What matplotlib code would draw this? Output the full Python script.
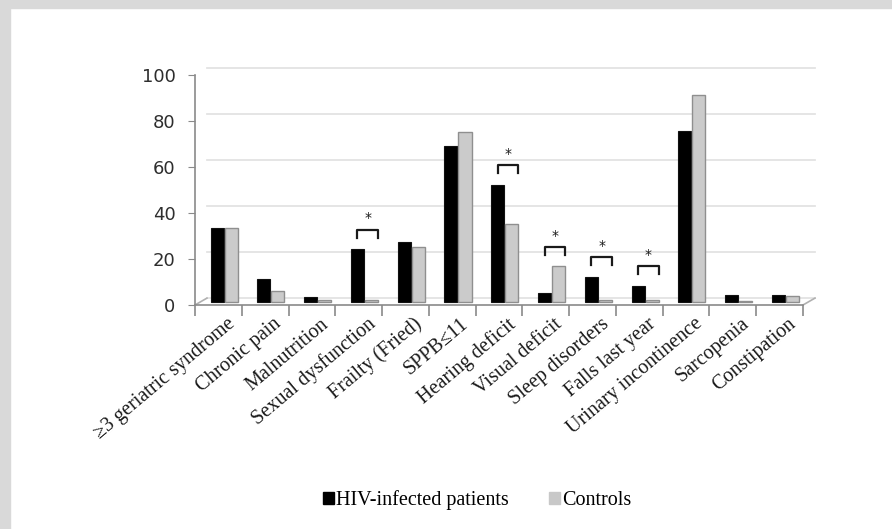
import matplotlib.pyplot as plt
import matplotlib.transforms as mtransforms
from matplotlib.patches import Patch, Rectangle
import numpy as np

categories = ['≥3 geriatric syndrome', 'Chronic pain', 'Malnutrition', 'Sexual dysfunction',
              'Frailty (Fried)', 'SPPB≤11', 'Hearing deficit', 'Visual deficit',
              'Sleep disorders', 'Falls last year', 'Urinary incontinence', 'Sarcopenia',
              'Constipation']
hiv = [32, 10, 2, 23, 26, 68, 51, 4, 11, 7, 74.5, 3, 3]
controls = [32, 5, 1, 1, 24, 74, 34, 15.5, 1, 1, 90, 0.5, 2.5]
# categories marked with a significance bracket
significant = ['Sexual dysfunction', 'Hearing deficit', 'Visual deficit', 'Sleep disorders',
               'Falls last year']

fig = plt.figure(figsize=(8.92, 5.29), dpi=100)

# grey frame on the top and left edges
fig.patches.append(Rectangle((0, 1 - 8 / 529), 1, 8 / 529, transform=fig.transFigure,
                             color='#d9d9d9', zorder=0))
fig.patches.append(Rectangle((0, 0), 10 / 892, 1, transform=fig.transFigure,
                             color='#d9d9d9', zorder=0))

ax = fig.add_axes([195 / 892, 1 - 305 / 529, 608 / 892, 230 / 529])
x = np.arange(len(categories))
ax.set_xlim(-0.5, len(categories) - 0.5)
ax.set_ylim(0, 100)

# pseudo-3D depth offsets (in pixels -> inches)
back = ax.transData + mtransforms.ScaledTranslation(12 / 100, 7 / 100, fig.dpi_scale_trans)
mid = ax.transData + mtransforms.ScaledTranslation(6 / 100, 3 / 100, fig.dpi_scale_trans)

# back wall gridlines
for v in range(0, 101, 20):
    ax.plot([-0.5, len(categories) - 0.5], [v, v], color='#e3e3e3', lw=1.3,
            transform=back, clip_on=False, zorder=0)
# floor side edges
for xe in (-0.5, len(categories) - 0.5):
    ax.plot([xe, xe + 12 / 46.8], [0, 3.0], color='#b0b0b0', lw=1.2,
            clip_on=False, zorder=1)

w = 0.28
ax.bar(x - 0.155, hiv, w, color='black', edgecolor='#111111', lw=0.8,
       transform=mid, zorder=3)
ax.bar(x + 0.145, controls, w, color='#cbcbcb', edgecolor='#8f8f8f', lw=1.0,
       transform=mid, zorder=3)

for name in significant:
    i = categories.index(name)
    top = max(hiv[i], controls[i]) + 8.5
    x0, x1 = i - 0.155, i + 0.145 + w / 2
    ax.plot([x0, x0, x1, x1], [top - 3.5, top, top, top - 3.5], color='#1a1a1a',
            lw=1.6, transform=mid, zorder=4, clip_on=False)
    ax.text((x0 + x1) / 2, top + 1.8, '*', ha='center', va='bottom', fontsize=10,
            color='#1a1a1a', transform=mid, zorder=4)

for s in ('top', 'right'):
    ax.spines[s].set_visible(False)
ax.spines['left'].set_color('#8a8a8a')
ax.spines['bottom'].set_color('#8a8a8a')
ax.spines['left'].set_linewidth(1.2)
ax.spines['bottom'].set_linewidth(1.2)

ax.set_yticks(range(0, 101, 20))
ax.tick_params(axis='y', length=5, color='#8a8a8a', labelsize=13,
               labelcolor='#2e2e2e', pad=9)
for lab in ax.get_yticklabels():
    lab.set_fontfamily('DejaVu Sans')

ax.set_xticks(x)
ax.set_xticks(np.arange(-0.5, len(categories), 1), minor=True)
ax.tick_params(axis='x', which='major', length=0, pad=4)
ax.tick_params(axis='x', which='minor', length=8, color='#8a8a8a', width=1.2)
ax.set_xticklabels(categories, rotation=40, ha='right', rotation_mode='anchor',
                   fontsize=14.5, family='Liberation Serif', color='#1a1a1a')
lab_shift = mtransforms.ScaledTranslation(8 / 100, -4 / 100, fig.dpi_scale_trans)
for lab in ax.get_xticklabels():
    lab.set_transform(lab.get_transform() + lab_shift)

handles = [Patch(facecolor='black', edgecolor='black', label='HIV-infected patients'),
           Patch(facecolor='#c8c8c8', edgecolor='#c8c8c8', label='Controls')]
fig.legend(handles=handles, loc='center', bbox_to_anchor=(0.535, 1 - 500 / 529), ncol=2,
           frameon=False, prop={'family': 'Liberation Serif', 'size': 14.5},
           handlelength=0.55, handleheight=0.55, handletextpad=0.1, columnspacing=2.0)

fig.savefig('out.png', dpi=100)
